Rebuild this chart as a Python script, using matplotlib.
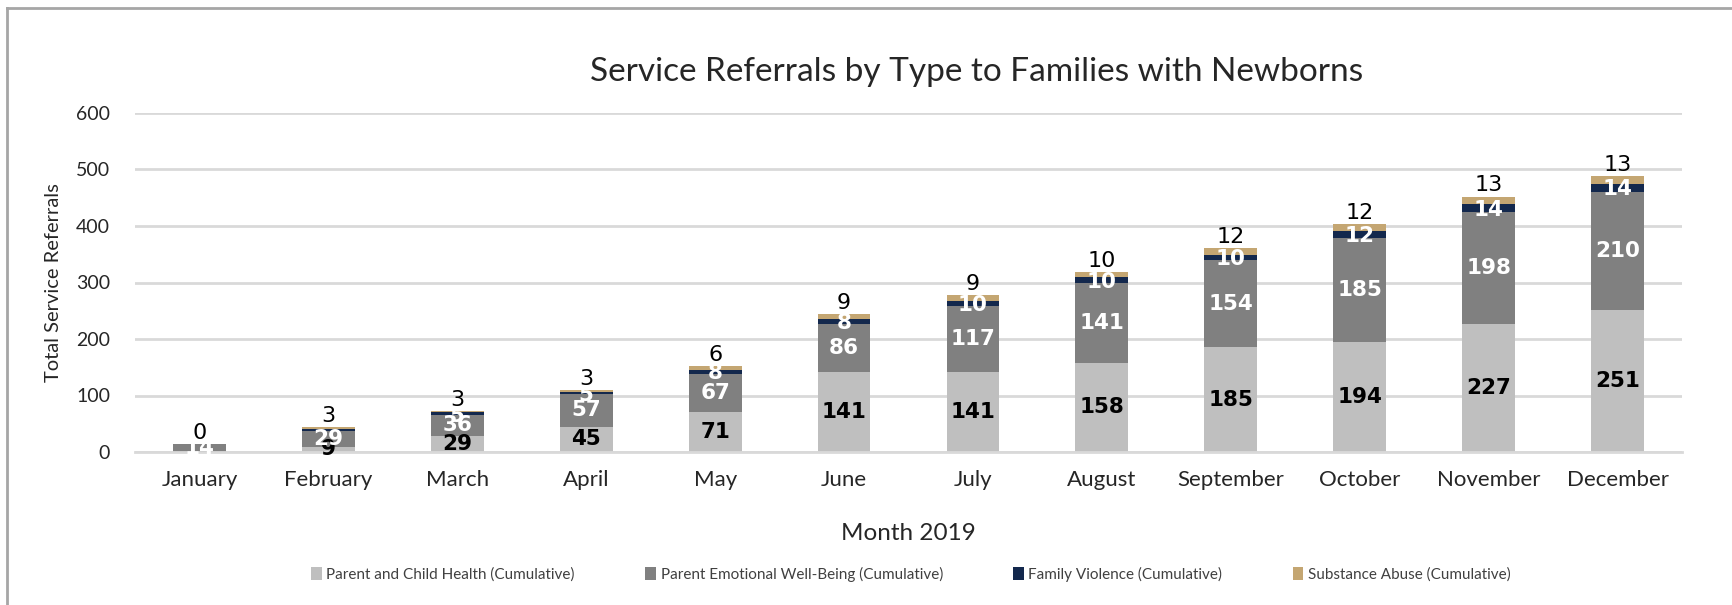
import matplotlib
matplotlib.use('Agg')
import numpy as np
import matplotlib.pyplot as plt
from matplotlib.lines import Line2D

plt.rcParams['font.family'] = ['Lato', 'DejaVu Sans']

months = ['January', 'February', 'March', 'April', 'May', 'June', 'July',
          'August', 'September', 'October', 'November', 'December']
child_health = [0, 9, 29, 45, 71, 141, 141, 158, 185, 194, 227, 251]
emotional = [14, 29, 36, 57, 67, 86, 117, 141, 154, 185, 198, 210]
violence = [0, 3, 5, 5, 8, 8, 10, 10, 10, 12, 14, 14]
substance = [0, 3, 3, 3, 6, 9, 9, 10, 12, 12, 13, 13]
# which family violence values carry a label on the chart
violence_labelled = [False, False, True, True, True, True, True, True, True, True, True, True]

series_names = ['Parent and Child Health (Cumulative)',
                'Parent Emotional Well-Being (Cumulative)',
                'Family Violence (Cumulative)',
                'Substance Abuse (Cumulative)']
colors = ['#BFBFBF', '#808080', '#13284D', '#C4A672']

fig = plt.figure(figsize=(17.32, 6.05), dpi=100)
W, H = 1732, 605
ax = fig.add_axes([135 / W, 1 - 452 / H, (1682 - 135) / W, (452 - 113) / H])

x = np.arange(len(months))
width = 0.41
b1 = np.array(child_health)
b2 = b1 + np.array(emotional)
b3 = b2 + np.array(violence)

ax.bar(x, child_health, width, color=colors[0], label=series_names[0], zorder=2)
ax.bar(x, emotional, width, bottom=b1, color=colors[1], label=series_names[1], zorder=2)
ax.bar(x, violence, width, bottom=b2, color=colors[2], label=series_names[2], zorder=2)
ax.bar(x, substance, width, bottom=b3, color=colors[3], label=series_names[3], zorder=2)

vfont = ['DejaVu Sans']
for i in range(len(months)):
    if child_health[i] > 0:
        ax.text(x[i], child_health[i] / 2, str(child_health[i]), ha='center', va='center',
                fontsize=15.5, fontweight='bold', color='black', family=vfont, zorder=4)
    ax.text(x[i], b1[i] + emotional[i] / 2, str(emotional[i]), ha='center', va='center',
            fontsize=15.5, fontweight='bold', color='white', family=vfont, zorder=4)
    if violence_labelled[i]:
        ax.text(x[i], b2[i] + violence[i] / 2 - 3, str(violence[i]), ha='center', va='center',
                fontsize=15.5, fontweight='bold', color='white', family=vfont, zorder=4)
    ax.text(x[i], b3[i] + substance[i] + 2, str(substance[i]), ha='center', va='bottom',
            fontsize=16, color='black', family=vfont, zorder=4)

ax.set_xlim(-0.5, len(months) - 0.5)
ax.set_ylim(0, 600)
ax.set_yticks(range(0, 601, 100))
ax.set_xticks(x)
ax.set_xticklabels(months, fontsize=16)
ax.tick_params(axis='y', labelsize=14, length=0, pad=18)
ax.tick_params(axis='x', length=0, pad=13)
for lbl in ax.get_xticklabels() + ax.get_yticklabels():
    lbl.set_color('#262626')
ax.grid(axis='y', color='#D9D9D9', linewidth=2, zorder=0)
for s in ['top', 'right', 'left']:
    ax.spines[s].set_visible(False)
ax.spines['bottom'].set_color('#D9D9D9')
ax.spines['bottom'].set_linewidth(2)

ax.set_ylabel('Total Service Referrals', fontsize=14.5, labelpad=10, color='#262626')
ax.set_xlabel('Month 2019', fontsize=17.5, labelpad=24, color='#262626')

fig.text(977 / W, 1 - 72 / H, 'Service Referrals by Type to Families with Newborns',
         ha='center', va='center', fontsize=24, color='#262626')

fig.legend(loc='center', bbox_to_anchor=(911 / W, 1 - 574 / H), ncol=4, frameon=False,
           fontsize=11, handlelength=0.7, handleheight=0.9, handletextpad=0.3,
           columnspacing=4.6, labelcolor='#404040')

# chart frame (left and top edges)
fig.add_artist(Line2D([7 / W, 7 / W], [0, 1 - 8 / H], color='#A6A6A6', linewidth=2,
                      transform=fig.transFigure))
fig.add_artist(Line2D([7 / W, 1], [1 - 8 / H, 1 - 8 / H], color='#A6A6A6', linewidth=2,
                      transform=fig.transFigure))

fig.savefig('out.png', dpi=100)
